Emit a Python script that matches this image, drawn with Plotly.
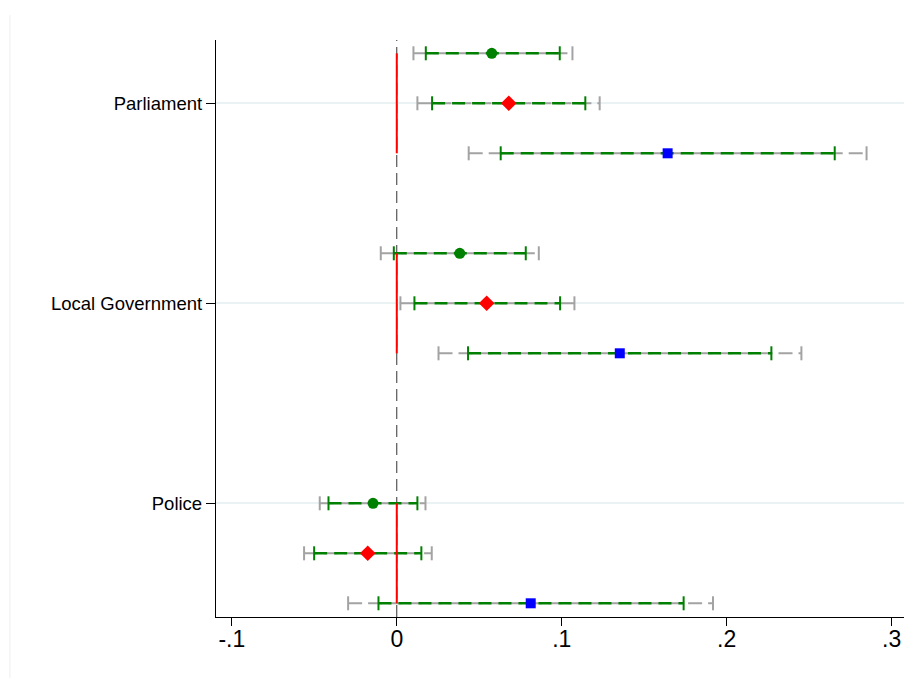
import plotly.graph_objects as go

# ---------------- data ----------------
categories = ["Parliament", "Local Government", "Police"]
series_names = ["Model 1", "Model 2", "Model 3"]

# point estimates per category (rows: categories, cols: series)
est = [
    [0.0576, 0.0679, 0.1642],
    [0.0382, 0.0545, 0.1352],
    [-0.0144, -0.0176, 0.0812],
]
ci90_lo = [
    [0.0176, 0.0214, 0.0630],
    [-0.0018, 0.0107, 0.0432],
    [-0.0414, -0.0501, -0.0111],
]
ci90_hi = [
    [0.0988, 0.1143, 0.2655],
    [0.0782, 0.0990, 0.2271],
    [0.0125, 0.0149, 0.1739],
]
ci95_lo = [
    [0.0101, 0.0125, 0.0436],
    [-0.0097, 0.0022, 0.0253],
    [-0.0467, -0.0562, -0.0295],
]
ci95_hi = [
    [0.1065, 0.1230, 0.2848],
    [0.0861, 0.1077, 0.2453],
    [0.0174, 0.0212, 0.1917],
]
x_tickvals = [-0.1, 0, 0.1, 0.2, 0.3]
x_ticktext = ["-.1", "0", ".1", ".2", ".3"]

# ---------------- layout of rows ----------------
group_start = [1, 5, 10]          # first row of each group
label_offset = [1, 1, 0]          # where the category label sits in the group
series_marker = [
    dict(symbol="circle", color="#008000", size=11),
    dict(symbol="diamond", color="#ff0000", size=12),
    dict(symbol="square", color="#0000ff", size=10),
]
GRAY = "#a3a3a3"
GREEN = "#008000"
FONT = "Liberation Sans, Arial, sans-serif"

fig = go.Figure()

# gray (95%) intervals
for g in range(len(categories)):
    for s in range(len(series_names)):
        y = group_start[g] + s
        fig.add_trace(go.Scatter(
            x=[ci95_lo[g][s], ci95_hi[g][s]], y=[y, y], mode="lines",
            line=dict(color=GRAY, width=2, dash="14px,6px"),
            hoverinfo="skip", showlegend=False))
        fig.add_trace(go.Scatter(
            x=[ci95_lo[g][s], ci95_hi[g][s]], y=[y, y], mode="markers",
            marker=dict(symbol="line-ns", size=10, line=dict(color=GRAY, width=2)),
            hoverinfo="skip", showlegend=False))

# green (90%) intervals
for g in range(len(categories)):
    for s in range(len(series_names)):
        y = group_start[g] + s
        fig.add_trace(go.Scatter(
            x=[ci90_lo[g][s], ci90_hi[g][s]], y=[y, y], mode="lines",
            line=dict(color=GREEN, width=2.5, dash="13px,7px"),
            hoverinfo="skip", showlegend=False))
        fig.add_trace(go.Scatter(
            x=[ci90_lo[g][s], ci90_hi[g][s]], y=[y, y], mode="markers",
            marker=dict(symbol="line-ns", size=10, line=dict(color=GREEN, width=2)),
            hoverinfo="skip", showlegend=False))

# red reference lines at zero per group
for g in range(len(categories)):
    fig.add_trace(go.Scatter(
        x=[0, 0], y=[group_start[g], group_start[g] + len(series_names) - 1],
        mode="lines", line=dict(color="#ff0000", width=2),
        hoverinfo="skip", showlegend=False))

# point estimates
for s in range(len(series_names)):
    fig.add_trace(go.Scatter(
        x=[est[g][s] for g in range(len(categories))],
        y=[group_start[g] + s for g in range(len(categories))],
        mode="markers", name=series_names[s],
        marker=dict(symbol=series_marker[s]["symbol"], size=series_marker[s]["size"],
                    color=series_marker[s]["color"], line=dict(width=0)),
        showlegend=False))

# dashed vertical line at zero
fig.add_shape(type="line", xref="x", yref="paper", x0=0, x1=0, y0=0, y1=1,
              line=dict(color="#333333", width=1, dash="12px,6px"), layer="below")

# faint outer border at left
fig.add_shape(type="line", xref="paper", yref="paper", x0=-0.2995, x1=-0.2995,
              y0=1.043, y1=-0.11, line=dict(color="#eeeeee", width=1))

fig.update_layout(
    width=904, height=678,
    margin=dict(l=216, r=0, t=40, b=61),
    paper_bgcolor="white", plot_bgcolor="white",
    font=dict(family=FONT, color="black"),
    xaxis=dict(
        range=[-0.1096, 0.3075], tickvals=x_tickvals, ticktext=x_ticktext,
        showgrid=False, zeroline=False, showline=True, linecolor="black", linewidth=1.3,
        ticks="outside", ticklen=8, tickwidth=1, tickcolor="black",
        tickfont=dict(size=23, family=FONT, color="black"),
        ticklabelstandoff=-7,
    ),
    yaxis=dict(
        range=[12.274, 0.734],
        tickvals=[group_start[g] + label_offset[g] for g in range(len(categories))],
        ticktext=categories,
        showgrid=True, gridcolor="#eaf2f3", gridwidth=1.5,
        zeroline=False, showline=True, linecolor="black", linewidth=1.3,
        ticks="outside", ticklen=9, tickwidth=1, tickcolor="black",
        tickfont=dict(size=18.5, family=FONT, color="black"),
    ),
)

fig.write_html("out.html")
